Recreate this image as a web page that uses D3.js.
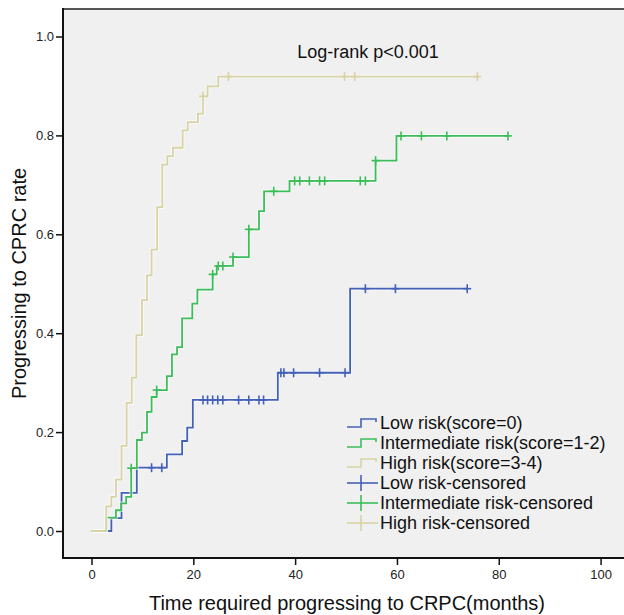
<!DOCTYPE html>
<html lang="en">
<head>
<meta charset="UTF-8">
<title>KM curves CRPC</title>
<style>
	body{margin:0;background:#fff;}
	text{font-family:Arial,"Liberation Sans",sans-serif;fill:#111;}
	.curve{fill:none;stroke-width:1.8px;}
	.halo{fill:none;stroke:#fff;stroke-width:3.6px;stroke-opacity:.6;}
	.mark{stroke-width:1.6px;}
</style>
</head>
<body>
<svg id="chart" width="624" height="615"></svg>
<script src="https://d3js.org/d3.v7.min.js"></script>
<script>
	// step points [months, cumulative rate]
	var lowSteps = [[0,0],[3.9,0.026],[5.9,0.077],[8.9,0.128],[14.8,0.155],[17.8,0.182],[18.8,0.209],[19.9,0.265],[36.6,0.32],[50.8,0.49]];
	var lowEnd = 73.8;
	var lowCensored = [11.8,13.8,21.9,22.8,23.8,24.8,25.8,28.9,30.9,32.9,33.8,37.2,37.8,39.7,44.8,49.8,53.8,59.7,73.8];

	var midSteps = [[0,0],[2.9,0.027],[4.8,0.042],[5.8,0.056],[6.8,0.069],[7.8,0.127],[8.9,0.184],[9.9,0.199],[10.9,0.241],[11.8,0.271],[12.8,0.285],[14.8,0.313],[15.8,0.357],[16.8,0.372],[17.8,0.43],[19.8,0.46],[20.8,0.488],[23.8,0.519],[24.6,0.536],[27.8,0.554],[30.9,0.61],[32.9,0.647],[33.9,0.687],[38.9,0.708],[55.8,0.749],[59.9,0.799]];
	var midEnd = 81.8;
	var midCensored = [7.8,12.8,23.8,24.9,25.8,27.8,30.9,35.8,39.9,40.9,42.8,44.8,45.8,52.8,53.8,55.8,60.8,64.8,69.8,81.8];

	var highSteps = [[0,0],[2.9,0.05],[3.9,0.069],[4.8,0.104],[5.9,0.172],[6.9,0.259],[7.9,0.31],[8.8,0.396],[9.9,0.467],[10.9,0.517],[11.8,0.569],[12.9,0.655],[13.9,0.741],[14.9,0.758],[16.0,0.775],[17.9,0.81],[18.9,0.827],[20.9,0.844],[21.9,0.879],[22.8,0.899],[24.9,0.919]];
	var highEnd = 75.8;
	var highCensored = [21.9,26.9,49.7,51.7,75.8];

	var xTicks = [0,20,40,60,80,100];
	var yTicks = [0,0.2,0.4,0.6,0.8,1.0];
	var legendLabels = ['Low risk(score=0)','Intermediate risk(score=1-2)','High risk(score=3-4)',
		'Low risk-censored','Intermediate risk-censored','High risk-censored'];

	var colors = {low:'#4461b8', mid:'#3dbd5a', high:'#d8d3a4'};

	var svg = d3.select('#chart');
	var pL = 63, pT = 9, pR = 624, pB = 558;

	var x = d3.scaleLinear().domain([-5.6,104.6]).range([pL,pR]);
	var y = d3.scaleLinear().domain([-0.0546,1.0556]).range([pB,pT]);

	svg.append('rect').attr('x',pL).attr('y',pT)
		.attr('width',pR-pL+10).attr('height',pB-pT)
		.attr('fill','#f0f0f0');
	svg.append('line').attr('x1',pL).attr('x2',pR+10).attr('y1',pT).attr('y2',pT)
		.attr('stroke','#555').attr('stroke-width',2);

	var groups = [
		{steps:lowSteps, end:lowEnd, cens:lowCensored, color:colors.low},
		{steps:midSteps, end:midEnd, cens:midCensored, color:colors.mid},
		{steps:highSteps, end:highEnd, cens:highCensored, color:colors.high}
	];

	var line = d3.line().x(d => x(d[0])).y(d => y(d[1])).curve(d3.curveStepAfter);

	function valueAt(steps, t){
		var v = 0;
		steps.forEach(function(s){ if(s[0] <= t + 1e-9) v = s[1]; });
		return v;
	}

	groups.forEach(function(g){
		var pts = g.steps.concat([[g.end, g.steps[g.steps.length-1][1]]]);
		svg.append('path').attr('class','halo').attr('d', line(pts));
		svg.append('path').attr('class','curve').attr('d', line(pts)).attr('stroke', g.color);
		var m = svg.append('g').selectAll('g').data(g.cens).enter().append('g')
			.attr('transform', d => 'translate(' + x(d) + ',' + y(valueAt(g.steps,d)) + ')');
		m.append('line').attr('class','mark').attr('x1',0).attr('x2',0).attr('y1',-4.5).attr('y2',4.5).attr('stroke',g.color);
		m.append('line').attr('class','mark').attr('x1',-4).attr('x2',4).attr('y1',0).attr('y2',0).attr('stroke',g.color);
	});

	// axes
	var ya = svg.append('g').attr('transform','translate(' + pL + ',0)')
		.call(d3.axisLeft(y).tickValues(yTicks).tickFormat(d3.format('.1f')).tickSize(7).tickPadding(2));
	ya.select('.domain').remove();
	var xa = svg.append('g').attr('transform','translate(0,' + pB + ')')
		.call(d3.axisBottom(x).tickValues(xTicks).tickFormat(d3.format('d')).tickSize(7).tickPadding(5));
	xa.select('.domain').remove();
	svg.selectAll('.tick line').attr('stroke','#111').attr('stroke-width',1.5);
	svg.selectAll('.tick text').style('font-size','13px').style('fill','#222')
		.style('font-family','Arial,"Liberation Sans",sans-serif');

	svg.append('line').attr('x1',pL).attr('x2',pL).attr('y1',pT-1).attr('y2',pB+1)
		.attr('stroke','#111').attr('stroke-width',2);
	svg.append('line').attr('x1',pL-1).attr('x2',pR+10).attr('y1',pB).attr('y2',pB)
		.attr('stroke','#111').attr('stroke-width',2);

	// titles
	svg.append('text').attr('x',368).attr('y',58).attr('text-anchor','middle')
		.style('font-size','18px').text('Log-rank p<0.001');
	svg.append('text').attr('transform','translate(26,283.5) rotate(-90)').attr('text-anchor','middle')
		.style('font-size','20px').text('Progressing to CPRC rate');
	svg.append('text').attr('x',347).attr('y',610).attr('text-anchor','middle')
		.style('font-size','20px').text('Time required progressing to CRPC(months)');

	// legend
	var lg = svg.append('g');
	var legendColors = [colors.low, colors.mid, colors.high, colors.low, colors.mid, colors.high];
	legendLabels.forEach(function(lbl, i){
		var by = 429 + i*20;
		var cy = by - 6;
		if(i < 3){
			lg.append('path').attr('fill','none').attr('stroke',legendColors[i]).attr('stroke-width',1.6)
				.attr('d','M347,' + (cy+4) + 'H361V' + (cy-4) + 'H376V' + (cy-1));
		} else {
			lg.append('line').attr('x1',347).attr('x2',378).attr('y1',cy).attr('y2',cy)
				.attr('stroke',legendColors[i]).attr('stroke-width',1.6);
			lg.append('line').attr('x1',361).attr('x2',361).attr('y1',cy-8).attr('y2',cy+8)
				.attr('stroke',legendColors[i]).attr('stroke-width',1.6);
		}
		lg.append('text').attr('x',380).attr('y',by).style('font-size','18px').text(lbl);
	});
</script>
</body>
</html>
